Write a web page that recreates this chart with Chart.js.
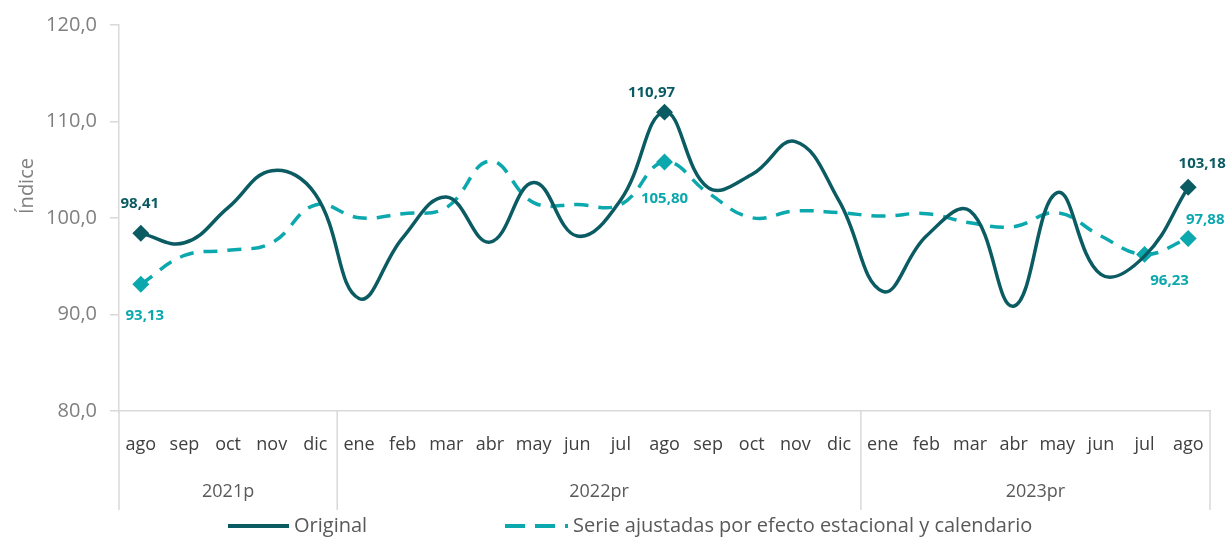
<!DOCTYPE html>
<html>
<head>
<meta charset="utf-8">
<script src="https://cdn.jsdelivr.net/npm/chart.js@4.4.0/dist/chart.umd.min.js"></script>
<style>
  body { margin: 0; background: #fff; }
  canvas { display: block; }
</style>
</head>
<body>
<canvas id="c" width="1226" height="537"></canvas>
<script>
let months = ['ago','sep','oct','nov','dic','ene','feb','mar','abr','may','jun','jul','ago','sep','oct','nov','dic','ene','feb','mar','abr','may','jun','jul','ago']
let years = ['2021p','2022pr','2023pr']
let yearSpans = [5, 12, 8]
let yTicks = [80, 90, 100, 110, 120]

let original = [98.41, 97.43, 101.07, 104.9, 102.46, 91.66, 97.95, 102.18, 97.5, 103.67, 98.13, 101.9, 110.97, 103.15, 104.5, 107.92, 101.77, 92.4, 98.13, 100.73, 90.86, 102.63, 94.15, 96.05, 103.18]
let ajustada = [93.13, 96.12, 96.65, 97.43, 101.35, 100.03, 100.45, 101.07, 105.9, 101.6, 101.4, 101.4, 105.80, 102.6, 100.03, 100.73, 100.55, 100.2, 100.45, 99.5, 99.1, 100.55, 98.13, 96.23, 97.88]

let darkTeal = '#0b5b63'
let lightTeal = '#0ba8ae'
let font = "'Open Sans', 'Noto Sans', sans-serif"

// which points get a diamond + value label, and where the label sits
let marked = [
  { ds: 0, i: 0, dx: -1, dy: -30 },
  { ds: 1, i: 0, dx: 4, dy: 31 },
  { ds: 0, i: 12, dx: -13, dy: -19 },
  { ds: 1, i: 12, dx: 0, dy: 37 },
  { ds: 0, i: 24, dx: 14, dy: -24 },
  { ds: 1, i: 23, dx: 25, dy: 26 },
  { ds: 1, i: 24, dx: 17, dy: -19 }
]

function fmt(v, d){
  return v.toFixed(d).replace('.', ',')
}

function radiusFor(ds){
  return function(ctx){
    let hit = marked.find(m => m.ds === ds && m.i === ctx.dataIndex)
    return hit ? 6 : 0
  }
}

let extras = {
  id: 'extras',
  afterDraw(chart){
    let c = chart.ctx
    let x = chart.scales.x
    let area = chart.chartArea
    c.save()

    // year separators + left axis extension
    c.strokeStyle = '#d9d9d9'
    c.lineWidth = 1.5
    let edges = [area.left]
    let pos = 0
    yearSpans.forEach(n => {
      pos += n
      let px = pos >= months.length ? area.right : (x.getPixelForValue(pos - 1) + x.getPixelForValue(pos)) / 2
      edges.push(px)
    })
    edges.forEach(px => {
      c.beginPath()
      c.moveTo(px, area.bottom)
      c.lineTo(px, 510)
      c.stroke()
    })

    // year labels
    c.fillStyle = '#595959'
    c.font = '18px ' + font
    c.textAlign = 'center'
    c.textBaseline = 'middle'
    years.forEach((y, k) => {
      c.fillText(y, (edges[k] + edges[k + 1]) / 2, 492)
    })

    // axis title
    c.save()
    c.translate(27, 186)
    c.rotate(-Math.PI / 2)
    c.fillStyle = '#7f7f7f'
    c.font = '20px ' + font
    c.fillText('Índice', 0, 0)
    c.restore()

    // value labels
    c.font = 'bold 15px ' + font
    marked.forEach(m => {
      let pt = chart.getDatasetMeta(m.ds).data[m.i]
      let val = chart.data.datasets[m.ds].data[m.i]
      c.fillStyle = m.ds === 0 ? darkTeal : lightTeal
      c.fillText(fmt(val, 2), pt.x + m.dx, pt.y + m.dy)
    })

    // legend
    c.lineWidth = 4
    c.strokeStyle = darkTeal
    c.beginPath()
    c.moveTo(228, 526)
    c.lineTo(289, 526)
    c.stroke()
    c.strokeStyle = lightTeal
    c.setLineDash([20, 10])
    c.beginPath()
    c.moveTo(505, 526)
    c.lineTo(568, 526)
    c.stroke()
    c.setLineDash([])
    c.fillStyle = '#595959'
    c.font = '20px ' + font
    c.textAlign = 'left'
    c.fillText(chart.data.datasets[0].label, 294, 526)
    c.fillText(chart.data.datasets[1].label, 573, 526)

    c.restore()
  }
}

let ctx = document.getElementById('c').getContext('2d')
new Chart(ctx, {
  type: 'line',
  data: {
    labels: months,
    datasets: [
      {
        label: 'Original',
        data: original,
        borderColor: darkTeal,
        backgroundColor: darkTeal,
        borderWidth: 3.5,
        tension: 0.42,
        pointStyle: 'rectRot',
        pointRadius: radiusFor(0),
        pointHoverRadius: 0
      },
      {
        label: 'Serie ajustadas por efecto estacional y calendario',
        data: ajustada,
        borderColor: lightTeal,
        backgroundColor: lightTeal,
        borderWidth: 3.5,
        borderDash: [14, 10],
        tension: 0.42,
        pointStyle: 'rectRot',
        pointRadius: radiusFor(1),
        pointHoverRadius: 0
      }
    ]
  },
  options: {
    responsive: false,
    animation: false,
    layout: { padding: { top: 24, right: 16, left: 0, bottom: 0 } },
    plugins: { legend: { display: false }, tooltip: { enabled: false } },
    scales: {
      x: {
        offset: true,
        grid: { display: false },
        border: { display: true, color: '#d9d9d9', width: 1.5 },
        ticks: { padding: 15, autoSkip: false, maxRotation: 0, color: '#404040', font: { family: font, size: 18 } },
        afterFit(s){ s.height = 126 }
      },
      y: {
        min: 80,
        max: 120,
        afterBuildTicks(s){ s.ticks = yTicks.map(v => ({ value: v })) },
        ticks: { padding: 13, color: '#7f7f7f', font: { family: font, size: 20 }, callback: v => fmt(v, 1) },
        grid: { drawOnChartArea: false, tickLength: 9, color: '#d9d9d9', lineWidth: 1.5 },
        border: { color: '#d9d9d9', width: 1.5 },
        afterFit(s){ s.width = 119 }
      }
    }
  },
  plugins: [extras]
})
</script>
</body>
</html>
